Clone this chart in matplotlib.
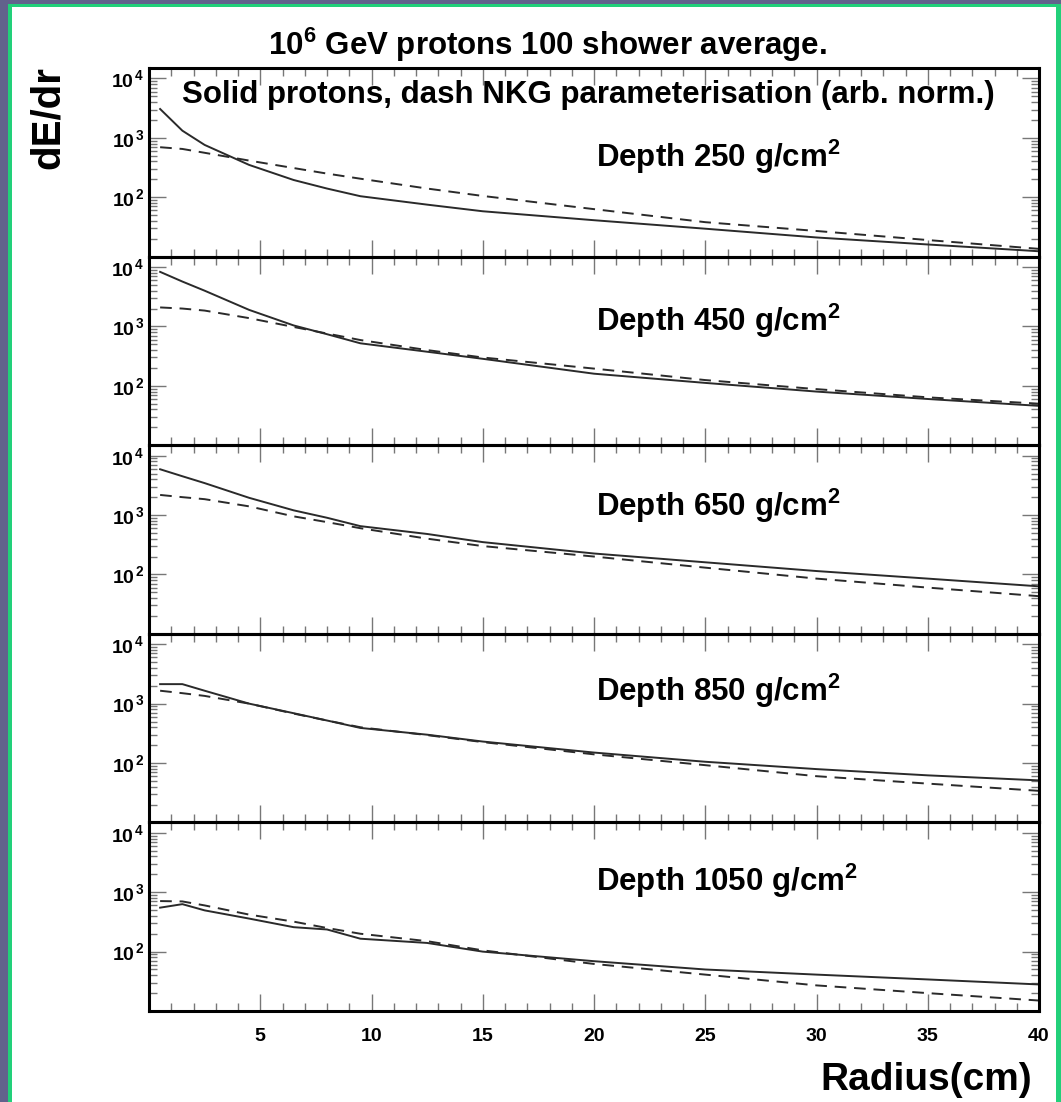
import numpy as np
import matplotlib
matplotlib.use('Agg')
import matplotlib.pyplot as plt
from matplotlib.ticker import FixedLocator, LogLocator, NullFormatter, FuncFormatter, MultipleLocator
from matplotlib.patches import Rectangle

plt.rcParams['font.family'] = 'Liberation Sans'
plt.rcParams['font.weight'] = 'bold'
plt.rcParams['mathtext.fontset'] = 'custom'
plt.rcParams['mathtext.rm'] = 'Liberation Sans:bold'
plt.rcParams['mathtext.bf'] = 'Liberation Sans:bold'
plt.rcParams['mathtext.it'] = 'Liberation Sans:bold'
plt.rcParams['mathtext.default'] = 'rm'

# radius (cm)
radius = [0.5, 1.5, 2.5, 4.5, 6.5, 8, 9.5, 12.5, 15, 20, 25, 30, 35, 40]
depths = [250, 450, 650, 850, 1050]

# solid: protons, dashed: NKG
proton_250 = [3060, 1320, 760, 350, 195, 140, 104, 75, 58, 41, 29.5, 21, 16, 12.3]
nkg_250 = [695, 650, 560, 414, 310, 250, 205, 140, 105, 63, 38, 27, 19, 13.5]
proton_450 = [8300, 5700, 4000, 1900, 1040, 740, 520, 375, 285, 160, 112, 80, 60, 46]
nkg_450 = [2090, 2000, 1850, 1380, 980, 760, 590, 400, 300, 195, 125, 88, 64, 50]
proton_650 = [5900, 4500, 3450, 1950, 1200, 900, 650, 480, 350, 225, 160, 114, 85, 63]
nkg_650 = [2180, 2000, 1850, 1400, 950, 760, 600, 400, 300, 200, 130, 85, 60, 43]
proton_850 = [2130, 2130, 1650, 1000, 690, 520, 390, 300, 230, 150, 105, 79, 62, 51]
nkg_850 = [1650, 1500, 1350, 1000, 680, 520, 400, 295, 225, 140, 92, 60, 45, 34]
proton_1050 = [550, 630, 495, 360, 258, 236, 165, 140, 100, 69, 50, 41, 34, 28]
nkg_1050 = [710, 700, 600, 420, 320, 250, 200, 150, 105, 62, 41, 27, 20, 15]

protons = [proton_250, proton_450, proton_650, proton_850, proton_1050]
nkgs = [nkg_250, nkg_450, nkg_650, nkg_850, nkg_1050]
label_y = [0.53, 0.66, 0.68, 0.70, 0.69]

W, H = 1061, 1102
fig = plt.figure(figsize=(W / 100, H / 100), dpi=100)
fig.patch.set_facecolor('#62628c')
fig.add_artist(Rectangle((8 / W, 0), (W - 8) / W, (H - 4) / H, transform=fig.transFigure,
                         facecolor='#22d07a', edgecolor='none', zorder=-10))
fig.add_artist(Rectangle((12 / W, 0), 1044 / W, (H - 7) / H, transform=fig.transFigure,
                         facecolor='white', edgecolor='none', zorder=-9))

axes = fig.subplots(5, 1, sharex=True,
                    gridspec_kw=dict(hspace=0, left=149 / W, right=1039 / W,
                                     top=1 - 68 / H, bottom=1 - 1011 / H))


def ylab(v, pos):
    e = int(round(np.log10(v)))
    if e < 2:
        return ''
    return r'$10^{\,%d}$' % e


for ax, d, p, n, ly in zip(axes, depths, protons, nkgs, label_y):
    ax.set_facecolor('none')
    ax.plot(radius, p, color='#2a2a2a', lw=1.4)
    ax.plot(radius, n, color='#2a2a2a', lw=1.4, dashes=(6, 4))
    ax.set_yscale('log')
    ax.set_ylim(10, 15000)
    ax.set_xlim(0, 40)
    ax.yaxis.set_major_locator(FixedLocator([10, 100, 1000, 10000]))
    ax.yaxis.set_major_formatter(FuncFormatter(ylab))
    ax.yaxis.set_minor_locator(LogLocator(base=10, subs=range(2, 10)))
    ax.yaxis.set_minor_formatter(NullFormatter())
    ax.xaxis.set_major_locator(MultipleLocator(5))
    ax.xaxis.set_minor_locator(MultipleLocator(1))
    ax.xaxis.set_major_formatter(FuncFormatter(lambda v, pos: '' if v == 0 else '%d' % v))
    ax.tick_params(which='both', direction='in', top=True, right=True,
                   color='#777777', width=1, labelsize=14)
    ax.tick_params(which='major', length=12)
    ax.tick_params(which='minor', length=6)
    ax.tick_params(axis='y', which='major', pad=3)
    ax.tick_params(axis='x', which='major', pad=12)
    for s in ax.spines.values():
        s.set_linewidth(2.2)
    ax.text(0.502, ly, 'Depth %d g/cm$^{2}$' % d, transform=ax.transAxes,
            fontsize=22.5, va='center', ha='left')

fig.text(547 / W, 1 - 45 / H, '10$^{6}$ GeV protons 100 shower average.',
         fontsize=22.5, ha='center', va='center')
fig.text(588 / W, 1 - 95 / H, 'Solid protons, dash NKG parameterisation (arb. norm.)',
         fontsize=22.5, ha='center', va='center')
fig.text(48 / W, 1 - 118 / H, 'dE/dr', fontsize=29, rotation=90, ha='center', va='center')
fig.text(926 / W, 1 - 1080 / H, 'Radius(cm)', fontsize=28, ha='center', va='center')

fig.savefig('out.png', dpi=100, facecolor=fig.get_facecolor())
